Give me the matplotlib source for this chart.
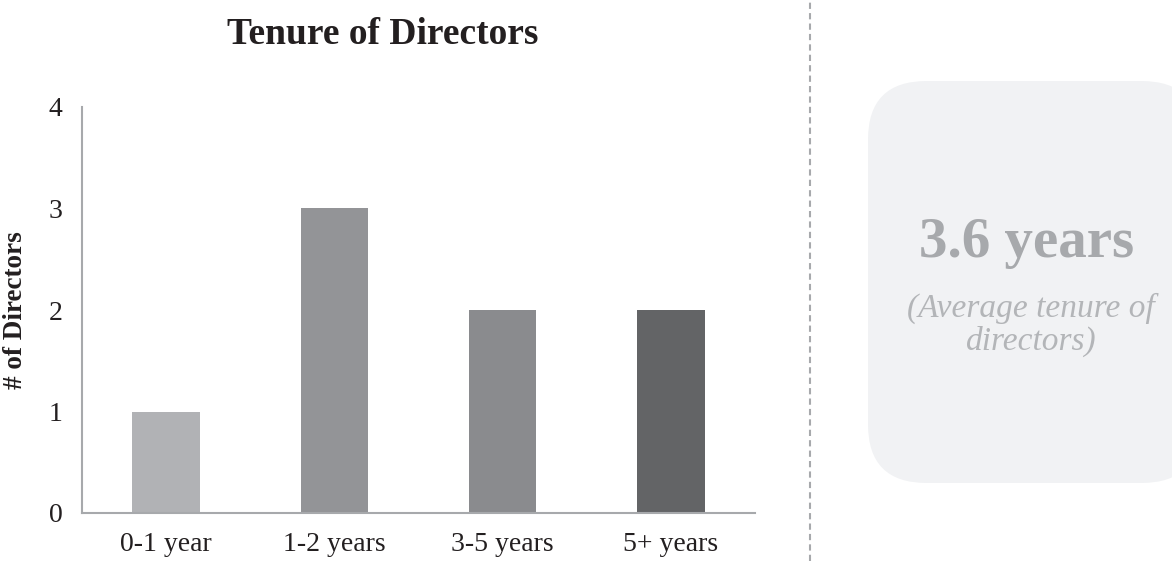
import matplotlib
matplotlib.use("Agg")
import matplotlib.pyplot as plt
from matplotlib.patches import FancyBboxPatch
from matplotlib.lines import Line2D

categories = ["0-1 year", "1-2 years", "3-5 years", "5+ years"]
directors = [1, 3, 2, 2]
bar_colors = ["#b1b2b5", "#939497", "#8a8b8e", "#636466"]
y_ticks = [0, 1, 2, 3, 4]
avg_value = "3.6 years"
avg_caption = "(Average tenure of\ndirectors)"

plt.rcParams['font.family'] = ['Liberation Serif', 'DejaVu Serif']

W, H = 1172, 561
fig = plt.figure(figsize=(W/100, H/100), dpi=100)
ax_l, ax_r, ax_t, ax_b = 82, 755, 107, 513
ax = fig.add_axes([ax_l/W, 1-ax_b/H, (ax_r-ax_l)/W, (ax_b-ax_t)/H])

ax.bar(range(len(categories)), directors, width=0.4, color=bar_colors)
ax.set_xlim(-0.5, len(categories)-0.5)
ax.set_ylim(0, 4)
ax.set_yticks(y_ticks)
ax.set_xticks(range(len(categories)))
ax.set_xticklabels(categories)
ax.tick_params(axis='both', length=0, labelsize=20, colors='#231f20')
ax.tick_params(axis='x', pad=14)
ax.tick_params(axis='y', pad=14)
for s in ['top', 'right']:
    ax.spines[s].set_visible(False)
for s in ['left', 'bottom']:
    ax.spines[s].set_color('#a7a9ac')
    ax.spines[s].set_linewidth(1.5)
ax.set_ylabel("# of Directors", fontsize=19.5, fontweight='bold', color='#231f20')
ax.yaxis.set_label_coords((28-ax_l)/(ax_r-ax_l), 0.5)

fig.text(383/W, 1-35/H, "Tenure of Directors", ha='center', va='center',
         fontsize=27, fontweight='bold', color='#231f20')

# dashed divider
fig.add_artist(Line2D([810/W, 810/W], [0, 1], transform=fig.transFigure,
                      color='#a7a9ac', linestyle=(0, (3, 2)), linewidth=1.5))

# rounded box
bx0, by0, bx1, by1 = 868, 81, 1200, 483
box = FancyBboxPatch((bx0/W, 1-by1/H), (bx1-bx0)/W, (by1-by0)/H,
                     boxstyle="round,pad=0,rounding_size=0.05",
                     transform=fig.transFigure, facecolor='#f1f2f4', edgecolor='none',
                     mutation_aspect=W/H)
fig.add_artist(box)

fig.text(1027/W, 1-243/H, avg_value, ha='center', va='center', fontsize=41,
         fontweight='bold', color='#a7a9ac')
fig.text(1031/W, 1-325/H, avg_caption, ha='center', va='center', fontsize=24,
         style='italic', color='#b3b5b8', linespacing=1.08)

fig.savefig("out.png", dpi=100)
